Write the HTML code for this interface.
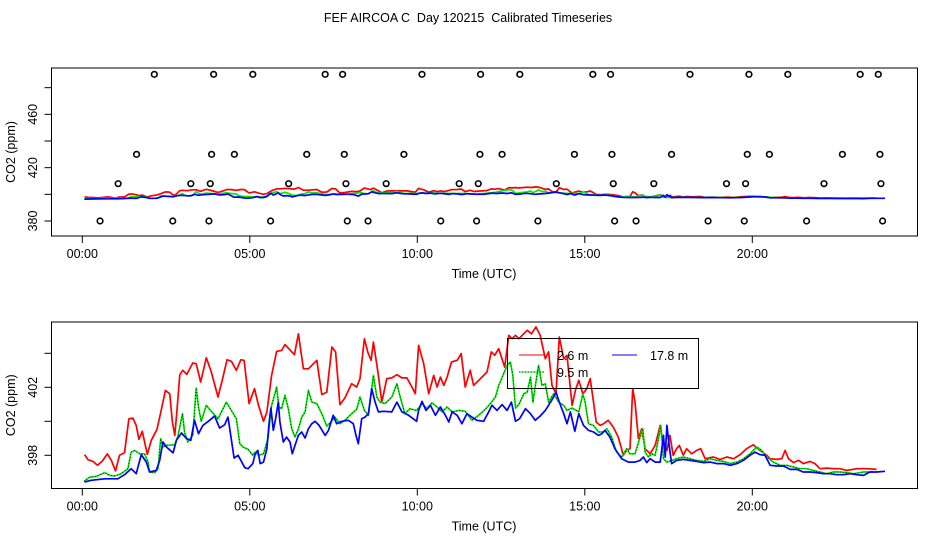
<!DOCTYPE html>
<html><head><meta charset="utf-8"><style>
body{margin:0;background:#fff}
svg{display:block;font-family:"Liberation Sans",sans-serif}
</style></head><body>
<svg id="chart" width="936" height="540" viewBox="0 0 936 540" xmlns="http://www.w3.org/2000/svg">
<text x="468" y="22" font-size="12.5" text-anchor="middle" style="white-space:pre">FEF AIRCOA C  Day 120215  Calibrated Timeseries</text>
<g id="top"></g>
<g id="bot"></g>
</svg>
<script>
const tRed=[0.07,0.17,0.32,0.45,0.59,0.75,0.87,0.99,1.11,1.26,1.39,1.51,1.61,1.69,1.79,1.86,1.94,2.06,2.23,2.36,2.48,2.61,2.69,2.76,2.83,2.91,3.00,3.12,3.30,3.40,3.53,3.58,3.70,3.85,4.05,4.20,4.32,4.45,4.60,4.73,4.83,4.98,5.14,5.26,5.41,5.51,5.65,5.80,5.95,6.05,6.33,6.45,6.60,6.75,7.00,7.15,7.30,7.45,7.56,7.69,7.84,8.04,8.19,8.29,8.42,8.52,8.62,8.69,8.84,8.94,9.09,9.24,9.39,9.54,9.69,9.84,9.94,10.04,10.19,10.34,10.49,10.59,10.69,10.79,10.89,11.02,11.19,11.31,11.43,11.58,11.68,11.93,12.08,12.21,12.31,12.43,12.61,12.73,12.83,12.93,13.03,13.13,13.28,13.41,13.54,13.67,13.82,13.92,14.02,14.14,14.24,14.37,14.47,14.62,14.72,14.82,14.94,15.06,15.16,15.26,15.34,15.46,15.56,15.70,15.85,16.00,16.15,16.25,16.35,16.43,16.50,16.60,16.70,16.80,16.95,17.10,17.25,17.35,17.45,17.54,17.64,17.74,17.82,17.94,18.04,18.19,18.34,18.46,18.59,18.84,19.04,19.24,19.44,19.64,19.83,20.03,20.23,20.43,20.53,20.73,20.88,20.98,21.08,21.23,21.38,21.53,21.72,21.87,22.02,22.22,22.42,22.62,22.82,23.12,23.42,23.71];
const red=[398.04,397.74,397.64,397.41,397.64,398.08,397.70,397.08,398.00,398.15,400.15,400.19,399.76,398.94,399.41,398.78,398.06,398.88,399.53,400.70,401.82,401.62,399.96,399.17,400.74,402.74,403.00,402.76,403.43,403.39,402.31,402.70,403.74,402.90,401.43,402.60,403.62,403.53,403.00,403.62,403.59,401.04,401.92,400.94,400.00,400.55,402.70,404.11,404.17,404.51,403.92,405.15,403.09,403.09,403.59,401.57,401.72,404.37,404.08,400.98,401.37,402.21,402.02,402.51,404.86,404.08,403.59,404.66,402.70,401.13,402.51,402.55,402.74,402.55,402.55,402.02,401.62,404.47,403.39,401.62,402.70,402.02,402.60,402.11,402.60,403.49,403.59,403.98,402.02,403.00,402.11,402.60,402.90,404.08,403.88,404.27,403.19,405.06,404.86,405.06,404.86,405.06,405.35,405.15,405.55,405.06,403.68,404.08,402.11,401.62,404.96,403.68,403.88,400.94,401.82,402.41,401.62,401.92,402.51,401.13,399.96,399.76,399.86,400.06,399.66,399.07,398.00,398.29,398.39,401.92,401.13,398.98,399.56,398.39,398.09,398.58,399.76,398.58,398.29,399.17,398.00,398.39,398.58,398.00,398.39,398.09,398.29,398.39,397.80,397.90,397.76,397.90,397.80,398.04,398.39,398.62,398.29,398.00,397.80,397.76,397.80,398.29,397.80,397.57,397.70,397.51,397.64,397.51,397.21,397.25,397.21,397.21,397.11,397.21,397.21,397.17];
const tGreen=[0.05,0.22,0.42,0.67,0.82,0.97,1.16,1.36,1.46,1.56,1.71,1.86,1.96,2.01,2.16,2.26,2.34,2.41,2.51,2.76,2.86,2.99,3.05,3.15,3.30,3.40,3.47,3.55,3.70,3.85,4.05,4.30,4.45,4.60,4.70,4.80,4.95,5.09,5.16,5.26,5.41,5.54,5.65,5.75,5.80,5.87,5.95,6.05,6.15,6.25,6.35,6.45,6.55,6.65,6.75,6.85,7.00,7.15,7.30,7.42,7.54,7.69,7.84,8.04,8.19,8.29,8.42,8.54,8.69,8.79,8.89,9.04,9.24,9.39,9.49,9.63,9.78,9.98,10.14,10.29,10.44,10.59,10.74,10.89,11.04,11.24,11.43,11.63,11.83,12.03,12.18,12.33,12.43,12.58,12.68,12.78,12.85,12.93,13.03,13.18,13.28,13.38,13.45,13.54,13.62,13.72,13.82,13.92,14.07,14.22,14.37,14.47,14.62,14.82,14.94,15.01,15.11,15.26,15.41,15.56,15.66,15.80,15.95,16.10,16.25,16.35,16.50,16.65,16.73,16.80,16.90,17.00,17.10,17.20,17.27,17.35,17.45,17.60,17.74,17.94,18.14,18.34,18.54,18.74,18.94,19.14,19.34,19.54,19.74,19.93,20.13,20.28,20.43,20.63,20.83,21.03,21.23,21.42,21.62,21.82,22.02,22.22,22.42,22.62,22.82,23.02,23.32,23.61];
const green=[396.47,396.72,396.76,396.98,396.82,396.78,396.92,397.21,398.19,398.29,398.09,398.09,397.60,397.02,396.98,397.21,398.98,398.49,398.59,398.62,399.17,400.45,399.37,398.78,399.17,401.96,400.84,400.00,400.94,400.59,400.15,401.13,400.64,400.15,398.68,398.49,398.35,398.00,398.19,398.00,398.09,398.98,400.94,401.62,402.02,400.84,400.74,401.53,400.74,399.56,399.07,399.56,400.25,400.55,401.82,401.13,401.04,400.45,399.72,399.96,400.25,399.86,400.06,400.45,400.70,401.43,400.64,400.35,402.70,401.43,401.13,401.04,401.43,402.21,401.43,400.45,400.74,400.64,401.04,400.74,401.09,400.84,400.55,400.84,400.55,400.64,400.59,400.06,400.35,400.70,401.04,401.43,402.11,402.80,403.29,403.49,402.70,400.78,400.98,401.62,401.72,402.60,401.13,402.31,403.29,402.11,402.21,401.13,401.62,401.13,400.94,400.64,400.78,400.55,401.62,401.13,399.86,399.76,399.37,399.37,399.56,399.07,398.19,397.90,398.39,398.09,398.09,399.07,399.56,398.19,397.90,398.09,398.00,398.98,399.76,397.80,397.60,397.70,397.80,397.90,397.80,397.70,397.64,397.80,397.70,397.64,397.51,397.60,397.80,398.09,398.49,398.29,397.90,397.60,397.41,397.41,397.31,397.21,397.21,397.11,397.02,396.92,397.02,397.02,396.98,396.92,397.02,397.02];
const tBlue=[0.07,0.27,0.67,1.06,1.26,1.46,1.61,1.76,1.91,2.01,2.21,2.31,2.41,2.51,2.71,2.81,2.96,3.11,3.24,3.35,3.47,3.60,3.80,3.95,4.10,4.25,4.35,4.53,4.65,4.85,4.95,5.09,5.16,5.24,5.31,5.41,5.51,5.58,5.63,5.70,5.77,5.85,5.90,6.00,6.10,6.20,6.27,6.35,6.45,6.55,6.65,6.75,6.85,6.95,7.07,7.25,7.35,7.49,7.59,7.74,7.94,8.09,8.17,8.24,8.34,8.44,8.54,8.64,8.74,8.84,8.99,9.24,9.39,9.54,9.74,9.88,9.98,10.04,10.14,10.26,10.39,10.54,10.69,10.84,10.94,11.04,11.19,11.33,11.48,11.63,11.78,11.98,12.13,12.23,12.38,12.53,12.68,12.81,12.93,13.05,13.23,13.38,13.52,13.67,13.82,13.92,14.07,14.14,14.24,14.37,14.47,14.57,14.70,14.82,14.96,15.11,15.26,15.41,15.51,15.60,15.75,15.90,16.10,16.30,16.50,16.65,16.75,16.85,16.95,17.10,17.25,17.35,17.40,17.45,17.52,17.59,17.74,17.94,18.14,18.34,18.54,18.74,18.94,19.14,19.34,19.54,19.73,19.93,20.08,20.23,20.38,20.53,20.73,20.93,21.13,21.33,21.52,21.72,21.92,22.12,22.32,22.52,22.72,22.92,23.12,23.32,23.51,23.71,23.96];
const blue=[396.43,396.53,396.62,396.62,396.86,397.21,396.92,398.04,397.60,397.02,397.11,397.70,398.78,398.49,398.15,398.88,399.31,398.98,398.88,400.06,399.27,399.76,400.06,400.31,399.60,399.80,400.25,397.84,398.00,397.27,397.21,397.51,398.09,398.29,397.51,397.60,398.39,399.96,400.78,399.47,400.15,401.13,399.96,398.78,399.07,398.78,398.09,398.58,399.17,399.37,399.02,399.56,399.86,400.00,399.76,399.17,399.47,400.35,399.86,400.00,400.06,399.86,399.17,398.68,400.15,400.25,400.45,401.92,401.13,400.55,400.59,400.55,401.13,400.55,400.35,400.15,400.00,400.64,401.17,400.64,400.94,400.35,400.84,400.35,399.96,400.55,400.35,399.86,400.45,400.25,400.06,400.00,400.55,400.94,400.64,400.98,400.64,401.13,400.00,400.15,400.74,400.45,400.06,400.31,400.64,400.94,401.43,401.72,401.13,400.45,399.86,400.55,399.41,400.45,399.76,399.47,399.37,399.17,399.27,399.47,399.07,398.39,397.80,397.60,397.60,397.70,397.90,397.57,397.80,397.60,397.60,399.17,397.90,399.76,398.58,397.51,397.70,397.76,397.70,397.64,397.57,397.60,397.51,397.51,397.41,397.51,397.70,398.00,398.19,398.04,398.00,397.41,397.37,397.37,397.17,397.17,397.02,397.02,396.98,396.92,396.92,396.86,396.86,396.92,396.86,396.82,397.02,397.02,397.06];
const flagLevels=[490,430,408,380];
const flagTimes=[[2.15,3.92,5.09,7.25,7.77,10.14,11.89,13.06,15.24,15.77,18.14,19.90,21.06,23.22,23.76],
[1.62,3.86,4.54,6.70,7.82,9.60,11.87,12.53,14.69,15.81,17.59,19.85,20.51,22.69,23.81],
[1.07,3.24,3.82,6.16,7.87,9.07,11.25,11.82,14.15,15.85,17.06,19.23,19.80,22.14,23.84],
[0.53,2.70,3.78,5.62,7.91,8.53,10.70,11.77,13.60,15.89,16.53,18.68,19.76,21.62,23.89]];
const xTickHours=[0,5,10,15,20];
const xTickLabels=["00:00","05:00","10:00","15:00","20:00"];
const topTicks=[380,400,420,440,460,480];
const topLabels=[380,420,460];
const botTicks=[398,400,402,404];
const botLabels=[398,402];

const NS="http://www.w3.org/2000/svg";
function mk(parent,tag,attrs){const e=document.createElementNS(NS,tag);for(const k in attrs)e.setAttribute(k,attrs[k]);parent.appendChild(e);return e;}
const xs=h=>82.3+h*33.5;

function panel(g,top,bottom,yScale,ticks,labels,pname){
  const box=mk(g,'rect',{x:51.5,y:top,width:866,height:bottom-top,fill:'none',stroke:'#000','stroke-width':1});
  
  
  xTickHours.forEach((h,i)=>{
    const t=mk(g,'line',{x1:xs(h),x2:xs(h),y1:bottom,y2:bottom+7,stroke:'#000'});
    
    
    const l=mk(g,'text',{x:xs(h),y:bottom+22,'font-size':12.5,'text-anchor':'middle'});
    l.textContent=xTickLabels[i];
    
    
  });
  ticks.forEach(v=>{
    const t=mk(g,'line',{x1:44.5,x2:51.5,y1:yScale(v),y2:yScale(v),stroke:'#000'});
    
    
  });
  labels.forEach(v=>{
    const y=yScale(v);
    const l=mk(g,'text',{x:0,y:0,'font-size':12.5,'text-anchor':'middle',transform:`translate(37,${y}) rotate(-90)`});
    l.textContent=v;
    
    
  });
  const xt=mk(g,'text',{x:484,y:bottom+42,'font-size':12.5,'text-anchor':'middle'});
  xt.textContent='Time (UTC)';
  
  
  const yt=mk(g,'text',{x:0,y:0,'font-size':12.5,'text-anchor':'middle',transform:`translate(15,${(top+bottom)/2}) rotate(-90)`});
  yt.textContent='CO2 (ppm)';
  
  
}
function series(g,ts,vs,yScale,color,name,dotted){
  const d=ts.map((t,i)=>(i?'L':'M')+xs(t).toFixed(1)+','+yScale(vs[i]).toFixed(1)).join('');
  const p=mk(g,'path',{d:d,fill:'none',stroke:color,'stroke-width':1.7,'stroke-linejoin':'round'});
  
  
  if(dotted){
    const q=mk(g,'path',{d:d,fill:'none',stroke:'#000','stroke-width':0.7,'stroke-dasharray':'1 2'});
    
    
  }
}
const gT=document.getElementById('top');
const yT=v=>221-(v-380)*1.3333;
panel(gT,68,236,yT,topTicks,topLabels,'top');
flagLevels.forEach((lv,i)=>{
  flagTimes[i].forEach(h=>{
    const c=mk(gT,'circle',{cx:xs(h),cy:yT(lv),r:2.8,fill:'none',stroke:'#000','stroke-width':1.6});
    
    
  });
});
series(gT,tRed,red,yT,'#ff0000','top-series-2-6m',false);
series(gT,tGreen,green,yT,'#00ee00','top-series-9-5m',false);
series(gT,tBlue,blue,yT,'#0000ff','top-series-17-8m',false);
const gB=document.getElementById('bot');
const yB=v=>455.3-(v-398)*17;
panel(gB,322,488.5,yB,botTicks,botLabels,'bottom');
series(gB,tRed,red,yB,'#ff0000','series-2-6m',false);
series(gB,tGreen,green,yB,'#00ee00','series-9-5m',true);
series(gB,tBlue,blue,yB,'#0000ff','series-17-8m',false);
const lg=mk(gB,'g',{});


const lb=mk(lg,'rect',{x:507.5,y:338.5,width:191,height:50,fill:'none',stroke:'#000'});


const entries=[['#ff0000','2.6 m',519,355,false],['#0000ff','17.8 m',612,355,false],['#00ee00','9.5 m',519,372,true]];
entries.forEach(e=>{
  const ln=mk(lg,'line',{x1:e[2],x2:e[2]+25,y1:e[3],y2:e[3],stroke:e[0],'stroke-width':1});
  
  
  if(e[4]){const d=mk(lg,'line',{x1:e[2],x2:e[2]+25,y1:e[3],y2:e[3],stroke:'#000','stroke-width':0.8,'stroke-dasharray':'1 2'});
    
    }
  const tx=mk(lg,'text',{x:e[2]+38,y:e[3]+5,'font-size':12.5});
  tx.textContent=e[1];
  
  
});
</script>
</body></html>
